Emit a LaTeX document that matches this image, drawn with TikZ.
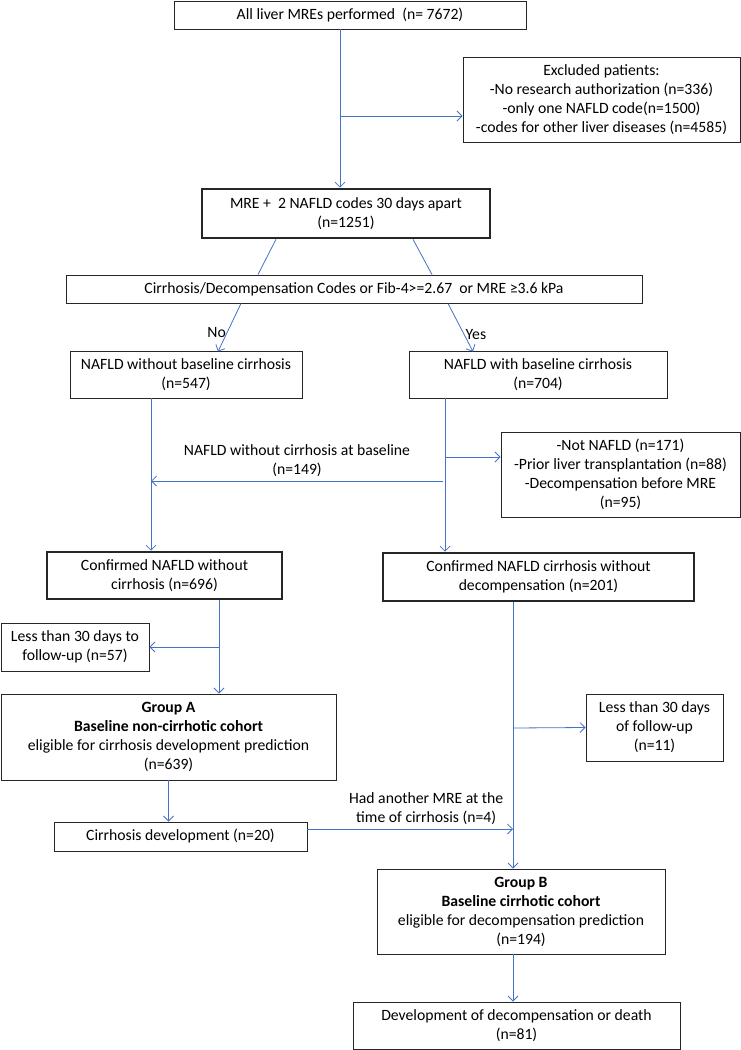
\documentclass[tikz,border=0pt]{standalone}
\usepackage{fontspec}
\setmainfont{Carlito}
\usepackage{tikz}
\usetikzlibrary{arrows.meta}
\usetikzlibrary{positioning}

\definecolor{linkblue}{HTML}{4472C4}

\begin{document}
\begin{tikzpicture}[x=1pt,y=-1pt]

   %Styles of boxes and arrows
   \tikzstyle{flowbox} = [rectangle, draw=black!85, line width=0.9pt, align=center, inner sep=2pt, font=\fontsize{15.7}{19}\selectfont]
   \tikzstyle{keybox} = [flowbox, line width=2.6pt]
   \tikzstyle{arrow} = [linkblue, line width=0.8pt, -{Straight Barb[length=5pt,width=10pt]}]
   \tikzstyle{link} = [linkblue, line width=0.8pt]
   \tikzstyle{note} = [text=black, font=\fontsize{15.7}{19}\selectfont, align=center, inner sep=1pt]

   \useasboundingbox (0,0) rectangle (741,1050);

   %Boxes
   \node[flowbox, minimum width=352, minimum height=28] (all) at (350,15) {All liver MREs performed~ (n= 7672)};
   \node[flowbox, minimum width=277, minimum height=85] (excl) at (601.5,99.5) {Excluded patients:\\-No research authorization (n=336)\\-only one NAFLD code(n=1500)\\-codes for other liver diseases (n=4585)};
   \node[keybox, minimum width=288, minimum height=49] (base) at (346,213.5) {MRE +~ 2 NAFLD codes 30 days apart\\(n=1251)};
   \node[flowbox, minimum width=576, minimum height=28] (crit) at (354,289) {Cirrhosis/Decompensation Codes or Fib-4>=2.67~ or MRE ≥3.6 kPa};
   \node[flowbox, minimum width=232, minimum height=47] (nocirr) at (186,374.5) {NAFLD without baseline cirrhosis\\(n=547)};
   \node[flowbox, minimum width=258, minimum height=47] (cirr) at (538,374.5) {NAFLD with baseline cirrhosis\\(n=704)};
   \node[flowbox, minimum width=239, minimum height=85] (excltwo) at (620.5,474.5) {-Not NAFLD (n=171)\\-Prior liver transplantation (n=88)\\-Decompensation before MRE\\(n=95)};
   \node[keybox, minimum width=235, minimum height=47] (confA) at (164.5,575.5) {Confirmed NAFLD without\\cirrhosis (n=696)};
   \node[keybox, minimum width=311, minimum height=48] (confB) at (538.5,577) {Confirmed NAFLD cirrhosis without\\decompensation (n=201)};
   \node[flowbox, minimum width=148, minimum height=48] (lessA) at (75,647) {Less than 30 days to\\follow-up (n=57)};
   \node[flowbox, minimum width=335, minimum height=86] (groupA) at (168.5,737) {\textbf{Group A}\\\textbf{Baseline non-cirrhotic cohort}\\eligible for cirrhosis development prediction\\(n=639)};
   \node[flowbox, minimum width=253, minimum height=29] (devA) at (180.5,836.5) {Cirrhosis development (n=20)};
   \node[flowbox, minimum width=137, minimum height=67] (lessB) at (654.5,727.5) {Less than 30 days\\of follow-up\\(n=11)};
   \node[flowbox, minimum width=288, minimum height=85] (groupB) at (521,911.5) {\textbf{Group B}\\\textbf{Baseline cirrhotic cohort}\\eligible for decompensation prediction\\(n=194)};
   \node[flowbox, minimum width=327, minimum height=47] (death) at (516.5,1025.5) {Development of decompensation or death\\(n=81)};

   %Branch points
   \coordinate (mainline) at (340,116);
   \coordinate (leftline) at (151,0);
   \coordinate (rightline) at (445,457);
   \coordinate (backline) at (443,481);
   \coordinate (lineA) at (219,647);
   \coordinate (lineB) at (513,728);
   \coordinate (rejoin) at (307,829);

   %Arrows
   \draw[arrow] (all.south -| mainline) -- (base.north -| mainline);
   \draw[arrow] (mainline) -- (mainline -| excl.west);
   \draw[link] ([xshift=-70]base.south) -- ([xshift=-96]crit.north);
   \draw[link] ([xshift=67]base.south) -- ([xshift=78]crit.north);
   \draw[arrow] ([xshift=-113]crit.south) -- node[left, note, pos=0.6] {No} ([xshift=32,yshift=-1]nocirr.north);
   \draw[arrow] ([xshift=94]crit.south) -- node[right, note, pos=0.65] {Yes} ([xshift=-65,yshift=-1]cirr.north);
   \draw[arrow] (nocirr.south -| leftline) -- (confA.north -| leftline);
   \draw[arrow] (cirr.south -| rightline) -- (confB.north -| rightline);
   \draw[arrow] (rightline) -- (rightline -| excltwo.west);
   \draw[arrow] (backline) -- node[above, note, yshift=3] {NAFLD without cirrhosis at baseline\\(n=149)} (backline -| leftline);
   \draw[arrow] (confA.south -| lineA) -- (groupA.north -| lineA);
   \draw[arrow] (lineA) -- (lessA.east);
   \draw[arrow] (groupA.south) -- (groupA.south |- devA.north);
   \draw[arrow] (confB.south -| lineB) -- (groupB.north -| lineB);
   \draw[arrow] (lineB) -- (lessB.west);
   \draw[arrow] (rejoin -| devA.east) -- node[above, note, xshift=16, yshift=3] {Had another MRE at the\\time of cirrhosis (n=4)} (rejoin -| lineB);
   \draw[arrow] (groupB.south -| lineB) -- (death.north -| lineB);

\end{tikzpicture}
\end{document}
